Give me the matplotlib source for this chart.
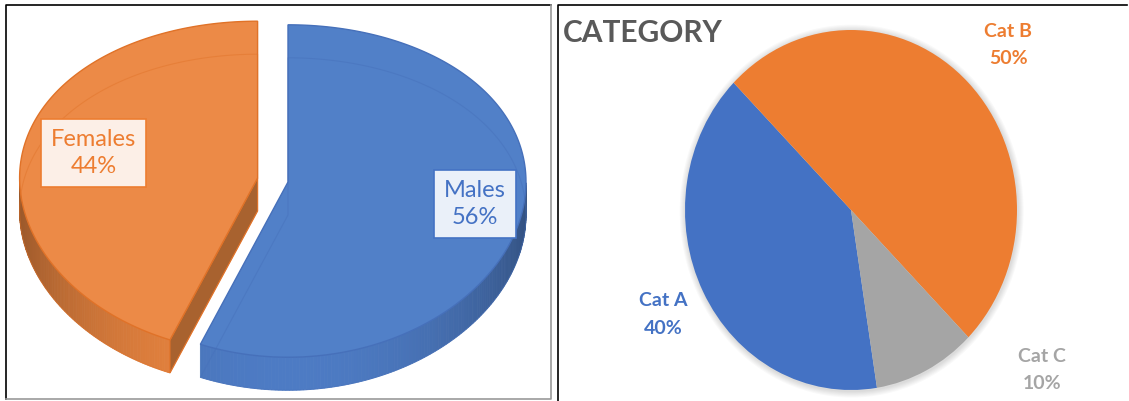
import numpy as np
import matplotlib.pyplot as plt
from matplotlib.patches import Polygon, Ellipse

plt.rcParams['font.family'] = ['Lato', 'DejaVu Sans']

# left chart: 3d exploded pie
gender = ['Males', 'Females']
gender_pct = [56, 44]
gender_top = ['#5180C8', '#EC8A47']
gender_side = ['#4D7BC4', '#E8843F']
gender_cut = ['#3F66AD', '#A8622F']
gender_edge = ['#4670BA', '#E07228']
gender_box = ['#EAF0F9', '#FCEFE7']
gender_text = ['#4472C4', '#ED7D31']
label_r = [0.8, 0.7]

# right chart: flat pie
cats = ['Cat A', 'Cat B', 'Cat C']
cat_pct = [40, 50, 10]
cat_colors = ['#4472C4', '#ED7D31', '#A5A5A5']
cat_label_xy = [(-1.13, -0.58), (0.946, 0.917), (1.15, -0.89)]

W, H = 1129, 401
fig = plt.figure(figsize=(W / 100, H / 100), dpi=100)
bg = fig.add_axes([0, 0, 1, 1])
bg.set_xlim(0, W)
bg.set_ylim(H, 0)
bg.axis('off')

# panel frames
bg.plot([6, 6, 551], [399, 5, 5], color='black', lw=1.2)
bg.plot([551, 551, 6], [5, 399, 399], color='#9A9A9A', lw=1.2)
bg.plot([558, 558, 1127], [401, 5, 5], color='black', lw=1.2)

# 3d pie geometry in pixels
cx, cy = 272.8, 180
rx, ry, persp, thick = 238, 166, 9, 33
explode = 0.065


def proj(u, v, z=0):
    return cx + rx * u, cy - ry * v + persp * v ** 2 + z * thick


theta = 90.0
for i, (name, p) in enumerate(zip(gender, gender_pct)):
    span = p / 100 * 360
    t1, t2 = theta - span, theta
    theta = t1
    mid = np.radians((t1 + t2) / 2)
    ex, ey = explode * np.cos(mid), explode * np.sin(mid)
    t = np.radians(np.linspace(t1, t2, 240))
    u = ex + np.cos(t)
    v = ey + np.sin(t)

    # outer rim, front part only, shaded by direction
    base = np.array(plt.matplotlib.colors.to_rgb(gender_side[i]))
    for k in range(len(t) - 1):
        s = np.sin((t[k] + t[k + 1]) / 2)
        if s >= 0:
            continue
        f = 0.66 + 0.34 * (-s) ** 1.5
        col = np.clip(base * f, 0, 1)
        xa, ya = proj(u[k], v[k])
        xb, yb = proj(u[k + 1], v[k + 1])
        xc, yc = proj(u[k + 1], v[k + 1], 1)
        xd, yd = proj(u[k], v[k], 1)
        bg.add_patch(Polygon([[xa, ya], [xb, yb], [xc, yc], [xd, yd]],
                             closed=True, fc=col, ec=col, lw=0.6, zorder=2))

    # radial cut faces that face the viewer
    for tt, nrm in [(t1, t1 - 90), (t2, t2 + 90)]:
        if np.sin(np.radians(nrm)) < -0.01:
            r_u, r_v = ex + np.cos(np.radians(tt)), ey + np.sin(np.radians(tt))
            pts = [proj(ex, ey), proj(r_u, r_v), proj(r_u, r_v, 1), proj(ex, ey, 1)]
            bg.add_patch(Polygon(pts, closed=True, fc=gender_cut[i],
                                 ec=gender_edge[i], lw=0.8, zorder=3))

    # top face
    top = [proj(ex, ey)] + [proj(a, b) for a, b in zip(u, v)]
    bg.add_patch(Polygon(top, closed=True, fc=gender_top[i],
                         ec=gender_edge[i], lw=1.0, zorder=4))

    # bottom outline seen through the slice
    bot = [proj(ex, ey, 1)] + [proj(a, b, 1) for a, b in zip(u, v)]
    bg.add_patch(Polygon(bot, closed=True, fill=False,
                         ec=gender_edge[i], lw=0.8, alpha=0.45, zorder=5))

    # data label
    lx, ly = proj(ex + label_r[i] * np.cos(mid), ey + label_r[i] * np.sin(mid))
    bg.text(lx, ly - 3, f'{name}\n{p}%', ha='center', va='center', fontsize=17,
            color=gender_text[i], linespacing=1.35, zorder=7,
            bbox=dict(boxstyle='square,pad=0.42', fc=gender_box[i],
                      ec=gender_text[i], lw=1.2))

# right chart
bg.text(563, 42, 'CATEGORY', ha='left', va='baseline', fontsize=21.5,
        fontweight='bold', color='#595959')

pcx, pcy, prx, pry = 851, 210, 166, 180
pax = fig.add_axes([(pcx - prx) / W, (H - pcy - pry) / H, 2 * prx / W, 2 * pry / H])
for k in range(6):
    g = 1 + 0.006 * (k + 1)
    pax.add_patch(Ellipse((0.004, -0.006), 2 * g, 2 * g, fc='black',
                          alpha=0.025, lw=0, clip_on=False, zorder=0))
wedges, _ = pax.pie(cat_pct, colors=cat_colors, startangle=-81, counterclock=False,
                    wedgeprops=dict(linewidth=0))
for w in wedges:
    w.set_zorder(2)
pax.set_aspect('auto')
pax.set_xlim(-1, 1)
pax.set_ylim(-1, 1)
pax.axis('off')
for c, p, col, (x, y) in zip(cats, cat_pct, cat_colors, cat_label_xy):
    pax.text(x, y, f'{c}\n{p}%', ha='center', va='center', fontsize=14,
             fontweight='bold', color=col, linespacing=1.75)

fig.savefig('out.png', dpi=100)
